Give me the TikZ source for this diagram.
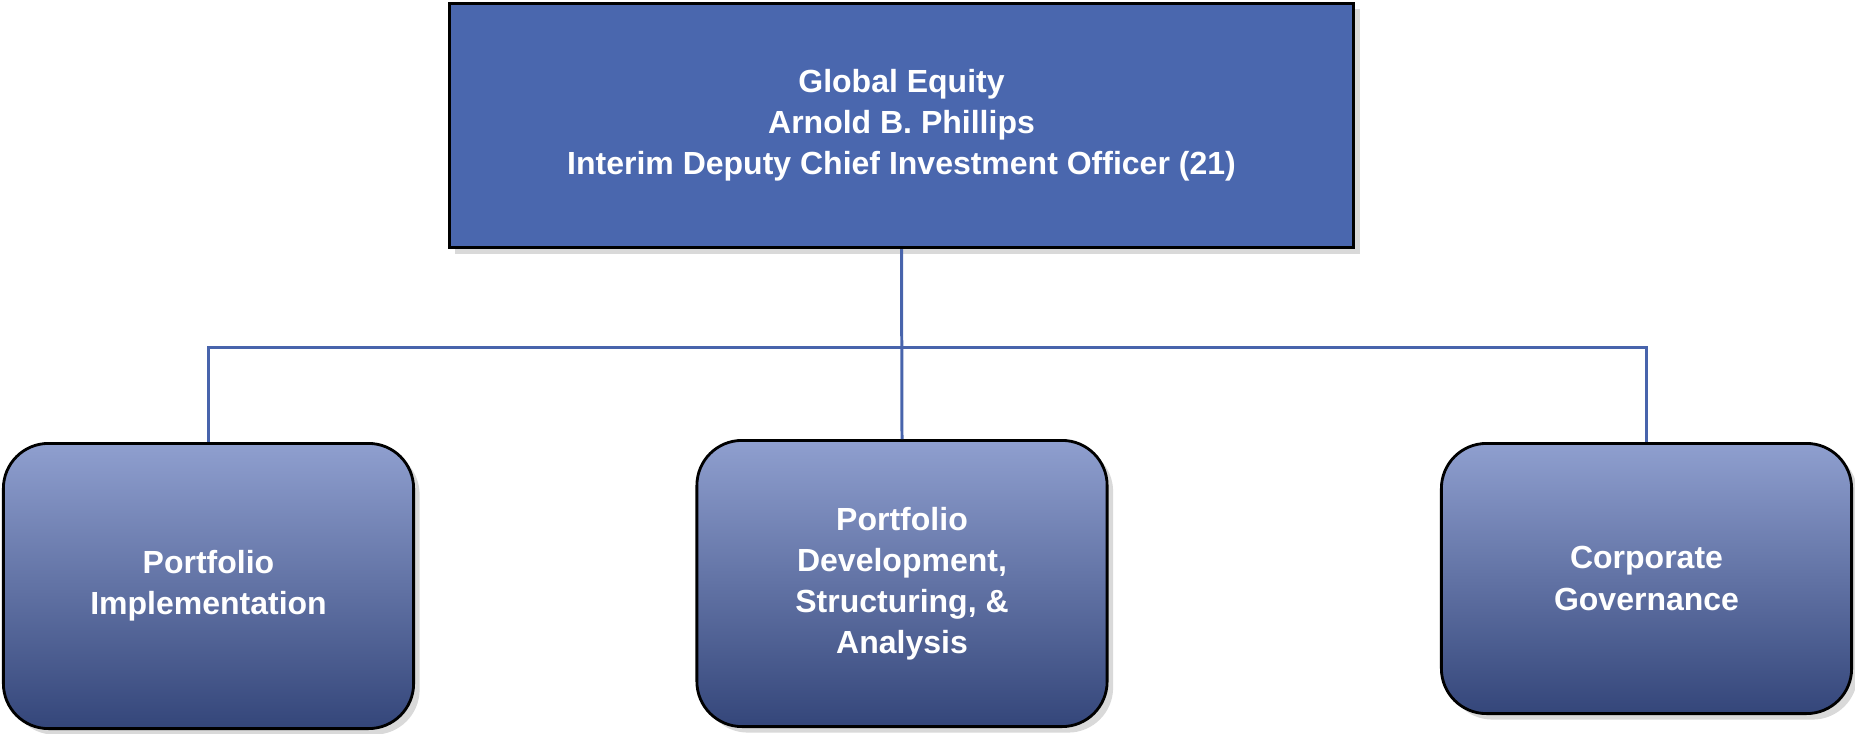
\documentclass[tikz,border=0pt]{standalone}
\usepackage{fontspec}
\setmainfont{Liberation Sans}
\usepackage{xcolor}
\usetikzlibrary{shadows}

\definecolor{boxblue}{RGB}{74,103,174}
\definecolor{linkblue}{RGB}{72,100,172}
\definecolor{gradtop}{RGB}{143,159,207}
\definecolor{gradmid}{RGB}{77,106,180}
\definecolor{gradbot}{RGB}{52,70,122}

\begin{document}
\begin{tikzpicture}[x=0.01cm,y=-0.01cm,
      head/.style={
        rectangle,
        draw=black,
        line width=0.9pt,
        fill=boxblue,
        minimum width=9.04cm,
        minimum height=2.44cm,
        drop shadow={shadow xshift=0.6mm, shadow yshift=-0.6mm, opacity=0.3}
      },
      unit/.style={
        rectangle,
        rounded corners=0.45cm,
        draw=black,
        line width=0.8pt,
        top color=gradtop,
        middle color=gradmid,
        bottom color=gradbot,
        minimum width=4.10cm,
        drop shadow={shadow xshift=0.6mm, shadow yshift=-0.6mm, opacity=0.3}
      },
      every node/.append style={
        text=white,
        align=center,
        font=\fontsize{9.1}{11.7}\selectfont\bfseries
      },
      link/.style={draw=linkblue, line width=0.85pt}]

    \useasboundingbox (0,0) rectangle (1855,733);

    \node[head] (GE) at (901.5,125.5) {Global Equity\\Arnold B. Phillips\\Interim Deputy Chief Investment Officer (21)};
    \node[unit,minimum height=2.85cm] (PI) at (208.5,586) {Portfolio\\Implementation};
    \node[unit,minimum height=2.86cm] (PD) at (902,583.5) {Portfolio\\Development,\\Structuring, \&\\Analysis};
    \node[unit,minimum height=2.70cm] (CG) at (1646.5,578.5) {Corporate\\Governance};
    \coordinate (bus) at (902,347);

    \draw[link] (GE.south) -- (PD.north);
    \draw[link] (PI.north) |- (bus) -| (CG.north);
  \end{tikzpicture}
\end{document}
